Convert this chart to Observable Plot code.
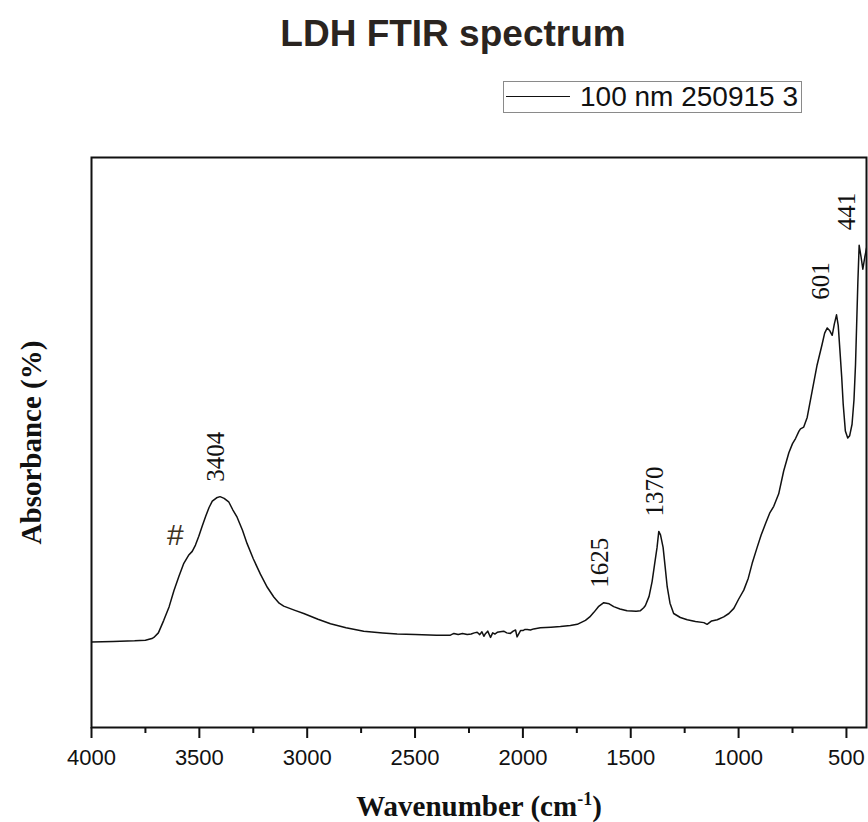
<!DOCTYPE html>
<html>
<head>
<meta charset="utf-8">
<script src="https://cdn.jsdelivr.net/npm/d3@7"></script>
<script src="https://cdn.jsdelivr.net/npm/@observablehq/plot@0.6"></script>
<style>
  body { margin: 0; background: #fff; }
  #wrap { position: relative; width: 868px; height: 822px; overflow: hidden; background: #fff; }
  #title { position: absolute; left: 453px; top: 15px; transform: translateX(-50%);
           font: bold 37px "Liberation Sans", Arial, sans-serif; line-height: 37px;
           color: #2a2420; white-space: nowrap; }
  #legend { position: absolute; left: 503px; top: 81px; width: 297px; height: 30px;
            border: 1px solid #8a8a8a; background: #fff; }
  #legend .swatch { position: absolute; left: 2px; top: 14px; width: 64px; height: 0;
                    border-top: 1.5px solid #111; }
  #legend .lab { position: absolute; left: 76px; top: 1px;
                 font: 28px "Liberation Sans", Arial, sans-serif; line-height: 28px;
                 color: #111; white-space: nowrap; }
  #chart { position: absolute; left: 0; top: 120px; }
</style>
</head>
<body>
<div id="wrap">
  <div id="title">LDH FTIR spectrum</div>
  <div id="legend"><div class="swatch"></div><div class="lab">100 nm 250915 3</div></div>
  <div id="chart"></div>
</div>
<script>
// ---- data ----
const wavenumber = [
  4000,3900,3800,3750,3720,3711,3690,3665,3640,3618,
  3595,3572,3550,3533,3518,3503,3487,3471,3455,3440,
  3420,3404,3385,3364,3345,3325,3300,3279,3250,3217,
  3185,3155,3130,3109,3060,3016,2950,2892,2820,2738,
  2650,2583,2500,2400,2336,2320,2300,2280,2258,2240,
  2225,2212,2200,2190,2181,2175,2163,2150,2140,2130,
  2119,2105,2089,2075,2058,2045,2034,2027,2011,2000,
  1990,1980,1965,1950,1919,1870,1826,1780,1748,1710,
  1690,1671,1650,1625,1600,1579,1550,1517,1475,1455,
  1440,1432,1415,1401,1390,1378,1370,1362,1350,1340,
  1331,1318,1301,1270,1238,1200,1161,1146,1125,1099,
  1069,1045,1022,1000,976,955,937,914,895,875,
  856,837,814,791,767,750,736,720,713,698,
  682,659,636,613,601,589,577,566,556,546,
  538,531,522,515,505,494,485,474,465,458,
  447,441,432,424,415,407
];
const absorbance = [
  15.0,15.1,15.2,15.3,15.6,15.8,16.6,18.8,21.2,24.0,
  26.5,28.8,30.2,30.9,32.0,33.5,35.3,37.0,38.6,39.7,
  40.3,40.5,40.2,39.6,38.2,36.9,34.6,32.3,29.6,26.9,
  24.6,22.9,21.8,21.3,20.6,20.0,19.0,18.2,17.5,16.9,
  16.6,16.4,16.3,16.2,16.2,16.5,16.3,16.5,16.3,16.4,
  16.6,16.7,16.3,16.8,16.0,16.4,16.9,15.8,16.6,16.4,
  16.7,16.8,16.9,16.6,16.5,16.9,17.1,15.9,17.0,17.0,
  17.2,17.2,17.1,17.3,17.5,17.6,17.7,17.9,18.1,18.8,
  19.4,20.2,21.2,21.9,21.7,21.2,20.8,20.5,20.4,20.5,
  21.0,21.4,23.0,25.6,28.5,31.6,34.4,33.8,31.6,28.0,
  24.7,21.8,20.0,19.3,18.9,18.6,18.4,18.1,18.7,18.9,
  19.4,20.0,20.9,22.5,24.1,26.2,28.8,31.6,33.8,35.8,
  37.6,38.8,41.0,45.0,48.2,49.8,50.7,52.0,52.4,52.7,
  54.4,59.0,63.6,67.2,69.2,70.1,69.6,68.8,70.8,72.4,
  70.5,66.6,61.5,56.7,52.0,50.8,51.2,53.2,57.5,63.6,
  78.2,84.6,82.5,80.4,82.5,84.1
];
const peakWavenumbers = [3404, 1625, 1370, 601, 441];
const peakLabels = ["3404", "1625", "1370", "601", "441"];
const shoulderWavenumbers = [3533];
const shoulderLabels = ["#"];
const majorTicks = [4000, 3500, 3000, 2500, 2000, 1500, 1000, 500];
const minorTicks = [3750, 3250, 2750, 2250, 1750, 1250, 750];
const xDomain = [4000, 407];
const yDomain = [0, 100];
const xLabelMain = "Wavenumber (cm";
const xLabelSup = "-1";
const xLabelEnd = ")";
const yLabel = "Absorbance (%)";

// ---- build tables ----
const spectrum = wavenumber.map((w, i) => ({wn: w, a: absorbance[i]}));
const peakValue = w => d3.max(spectrum.filter(d => Math.abs(d.wn - w) <= 60), d => d.a);
const valueAt = w => spectrum[d3.minIndex(spectrum, d => Math.abs(d.wn - w))].a;
const peaks = peakWavenumbers.map((w, i) => ({wn: w, a: peakValue(w), label: peakLabels[i]}));
const shoulders = shoulderWavenumbers.map((w, i) => ({wn: w, a: valueAt(w), label: shoulderLabels[i]}));
const xLabelFull = xLabelMain + xLabelSup + xLabelEnd;

const SERIF = '"Liberation Serif", "Times New Roman", serif';
const SANS = '"Liberation Sans", Arial, sans-serif';

const peakText = {
  x: "wn", y: "a", text: "label", rotate: -90, textAnchor: "start", lineAnchor: "middle",
  dy: -15, fontSize: 25, fontFamily: SERIF, fill: "#111"
};

const plot = Plot.plot({
  width: 868,
  height: 702,
  marginTop: 37,
  marginBottom: 95,
  marginLeft: 91,
  marginRight: 2,
  x: {domain: xDomain},
  y: {domain: yDomain, axis: null},
  style: {background: "white", color: "#111", overflow: "visible"},
  marks: [
    Plot.line(spectrum, {x: "wn", y: "a", stroke: "#111", strokeWidth: 1.5, clip: true}),
    Plot.frame({stroke: "#111", strokeWidth: 2}),
    Plot.axisX({ticks: minorTicks, tickSize: 6, tickFormat: () => "", strokeWidth: 2, label: null}),
    Plot.axisX({ticks: majorTicks, tickSize: 11, tickPadding: 11, tickFormat: d => String(d),
                strokeWidth: 2, fontSize: 22, fontFamily: SANS, fill: "#111", label: null}),
    Plot.text(peaks.filter(d => d.wn > 500), {...peakText, dx: -4}),
    Plot.text(peaks.filter(d => d.wn <= 500), {...peakText, dx: -12}),
    Plot.text(shoulders, {x: "wn", y: "a", text: "label", dx: -17, dy: -16, fontSize: 30,
                          fontFamily: SANS, fill: "#3d3221"}),
    Plot.text([yLabel], {frameAnchor: "left", text: d => d, rotate: -90, dx: -60,
                         textAnchor: "middle", lineAnchor: "middle", fontSize: 29,
                         fontWeight: "bold", fontFamily: SERIF, fill: "#111"}),
    Plot.text([xLabelFull], {frameAnchor: "bottom", text: d => d, dy: 79, textAnchor: "middle",
                         lineAnchor: "middle", fontSize: 29, fontWeight: "bold",
                         fontFamily: SERIF, fill: "#111"})
  ]
});

// superscript for cm^-1: rebuild that label's text with tspans
for (const t of plot.querySelectorAll("text")) {
  if (t.textContent === xLabelFull) {
    t.textContent = "";
    const s = d3.select(t);
    s.append("tspan").text(xLabelMain);
    s.append("tspan").attr("dy", "-11").attr("font-size", "18").text(xLabelSup);
    s.append("tspan").attr("dy", "11").text(xLabelEnd);
  }
}

document.getElementById("chart").appendChild(plot);
</script>
</body>
</html>
